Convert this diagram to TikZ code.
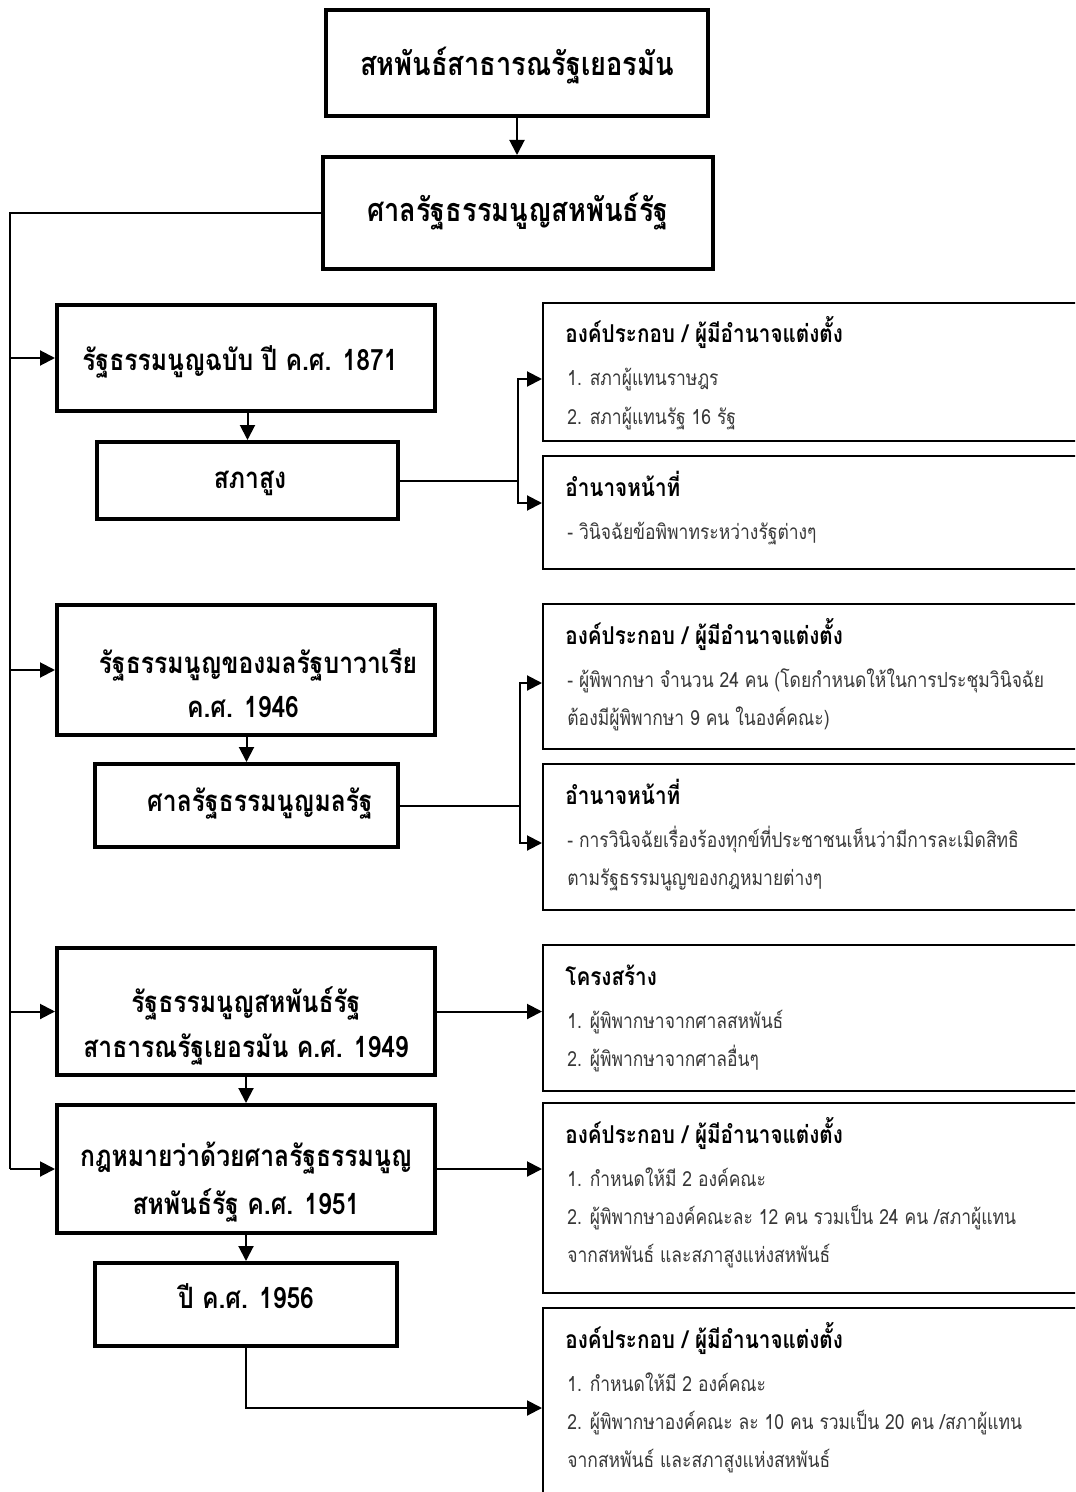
\documentclass[tikz,border=0pt]{standalone}
\usepackage{fontspec}
\newfontfamily\thaifont[Script=Thai,FakeStretch=0.84]{Loma}
\usetikzlibrary{arrows.meta,fit}

\tikzset{
  every node/.style={inner sep=0pt},
  thickbox/.style={draw, line width=2pt},
  rbox/.style={draw, line width=1pt},
  toptext/.style={anchor=base, font=\thaifont\bfseries\fontsize{16.2}{19}\selectfont},
  ltext/.style={anchor=base, font=\thaifont\bfseries\fontsize{14.7}{18}\selectfont},
  rhead/.style={anchor=base west, font=\thaifont\bfseries\fontsize{12.3}{14}\selectfont},
  ritem/.style={anchor=base west, text=black!78, font=\thaifont\fontsize{10.4}{12}\selectfont},
  link/.style={line width=1pt},
  arr/.style={line width=1pt, -{Triangle[length=7.5pt,width=7.5pt]}},
}

\begin{document}
\begin{tikzpicture}[x=0.5pt,y=-0.5pt]
\useasboundingbox (0,0) rectangle (1075,1492);
\clip (0,0) rectangle (1075,1492);

% left column frames
\node[thickbox, fit={(326,10)(708,116)}] (fed) {};
\node[thickbox, fit={(323,157)(713,269)}] (fcc) {};
\node[thickbox, fit={(57,305)(435,411)}] (c1871) {};
\node[thickbox, fit={(97,442)(398,519)}] (senate) {};
\node[thickbox, fit={(57,605)(435,735)}] (bav) {};
\node[thickbox, fit={(95,764)(398,847)}] (scourt) {};
\node[thickbox, fit={(57,948)(435,1075)}] (c1949) {};
\node[thickbox, fit={(57,1105)(435,1233)}] (l1951) {};
\node[thickbox, fit={(95,1263)(397,1346)}] (y1956) {};

% left column texts
\node[toptext] (tfed) at (517,76) {สหพันธ์สาธารณรัฐเยอรมัน};
\node[toptext] (tfcc) at (518,222) {ศาลรัฐธรรมนูญสหพันธ์รัฐ};
\node[ltext] (t1871) at (240,371) {รัฐธรรมนูญฉบับ ปี ค.ศ. 1871};
\node[ltext] (tsen) at (250,488) {สภาสูง};
\node[ltext] (tbav1) at (258,673) {รัฐธรรมนูญของมลรัฐบาวาเรีย};
\node[ltext] (tbav2) at (243,717) {ค.ศ. 1946};
\node[ltext] (tsc) at (260,811) {ศาลรัฐธรรมนูญมลรัฐ};
\node[ltext] (t49a) at (246,1012) {รัฐธรรมนูญสหพันธ์รัฐ};
\node[ltext] (t49b) at (246,1057) {สาธารณรัฐเยอรมัน ค.ศ. 1949};
\node[ltext] (t51a) at (246,1166) {กฎหมายว่าด้วยศาลรัฐธรรมนูญ};
\node[ltext] (t51b) at (246,1214) {สหพันธ์รัฐ ค.ศ. 1951};
\node[ltext] (t56) at (246,1308) {ปี ค.ศ. 1956};

% right column frames
\node[rbox, fit={(543,303)(1100,441)}] (sA) {};
\node[rbox, fit={(543,456)(1100,569)}] (sB) {};
\node[rbox, fit={(543,604)(1100,749)}] (sC) {};
\node[rbox, fit={(543,764)(1100,910)}] (sD) {};
\node[rbox, fit={(543,945)(1100,1091)}] (sE) {};
\node[rbox, fit={(543,1103)(1100,1293)}] (sF) {};
\node[rbox, fit={(543,1308)(1100,1508)}] (sG) {};

% right column texts
\node[rhead] (tA0) at (565,343) {องค์ประกอบ / ผู้มีอำนาจแต่งตั้ง};
\node[ritem] (tA1) at (567,386) {1. สภาผู้แทนราษฎร};
\node[ritem] (tA2) at (567,424) {2. สภาผู้แทนรัฐ 16 รัฐ};

\node[rhead] (tB0) at (565,496) {อำนาจหน้าที่};
\node[ritem] (tB1) at (567,539) {- วินิจฉัยข้อพิพาทระหว่างรัฐต่างๆ};

\node[rhead] (tC0) at (565,644) {องค์ประกอบ / ผู้มีอำนาจแต่งตั้ง};
\node[ritem] (tC1) at (567,687) {- ผู้พิพากษา จำนวน 24 คน (โดยกำหนดให้ในการประชุมวินิจฉัย};
\node[ritem] (tC2) at (567,725) {ต้องมีผู้พิพากษา 9 คน ในองค์คณะ)};

\node[rhead] (tD0) at (565,804) {อำนาจหน้าที่};
\node[ritem] (tD1) at (567,847) {- การวินิจฉัยเรื่องร้องทุกข์ที่ประชาชนเห็นว่ามีการละเมิดสิทธิ};
\node[ritem] (tD2) at (567,885) {ตามรัฐธรรมนูญของกฎหมายต่างๆ};

\node[rhead] (tE0) at (565,985) {โครงสร้าง};
\node[ritem] (tE1) at (567,1028) {1. ผู้พิพากษาจากศาลสหพันธ์};
\node[ritem] (tE2) at (567,1066) {2. ผู้พิพากษาจากศาลอื่นๆ};

\node[rhead] (tF0) at (565,1143) {องค์ประกอบ / ผู้มีอำนาจแต่งตั้ง};
\node[ritem] (tF1) at (567,1186) {1. กำหนดให้มี 2 องค์คณะ};
\node[ritem] (tF2) at (567,1224) {2. ผู้พิพากษาองค์คณะละ 12 คน รวมเป็น 24 คน /สภาผู้แทน};
\node[ritem] (tF3) at (567,1262) {จากสหพันธ์ และสภาสูงแห่งสหพันธ์};

\node[rhead] (tG0) at (565,1348) {องค์ประกอบ / ผู้มีอำนาจแต่งตั้ง};
\node[ritem] (tG1) at (567,1391) {1. กำหนดให้มี 2 องค์คณะ};
\node[ritem] (tG2) at (567,1429) {2. ผู้พิพากษาองค์คณะ ละ 10 คน รวมเป็น 20 คน /สภาผู้แทน};
\node[ritem] (tG3) at (567,1467) {จากสหพันธ์ และสภาสูงแห่งสหพันธ์};

% junction points
\coordinate (tTop) at (10,213);
\coordinate (tBot) at (10,1169);
\coordinate (j1a) at (518,379);
\coordinate (j1b) at (518,503);
\coordinate (j2a) at (520,683);
\coordinate (j2b) at (520,843);

% connectors
\draw[arr] (fed.south) -- (fed.south |- fcc.north);
\draw[line width=0.8pt] (fcc.west) -- (tTop) -- (tBot);
\draw[arr] (tTop |- c1871.west) -- (c1871.west);
\draw[arr] (tTop |- bav.west) -- (bav.west);
\draw[arr] (tTop |- c1949.west) -- (c1949.west);
\draw[arr] (tTop |- l1951.west) -- (l1951.west);

\draw[arr] (senate.north |- c1871.south) -- (senate.north);
\draw[arr] (scourt.north |- bav.south) -- (scourt.north);
\draw[arr] (l1951.north |- c1949.south) -- (l1951.north);
\draw[arr] (y1956.north |- l1951.south) -- (y1956.north);

\draw[link] (senate.east) -- (senate.east -| j1a);
\draw[arr] (senate.east -| j1a) |- (j1a -| sA.west);
\draw[arr] (senate.east -| j1a) |- (j1b -| sB.west);

\draw[link] (scourt.east) -- (scourt.east -| j2a);
\draw[arr] (scourt.east -| j2a) |- (j2a -| sC.west);
\draw[arr] (scourt.east -| j2a) |- (j2b -| sD.west);

\draw[arr] (c1949.east) -- (c1949.east -| sE.west);
\draw[arr] (l1951.east) -- (l1951.east -| sF.west);
\draw[arr] (y1956.south) |- (sG.west);
\end{tikzpicture}
\end{document}
